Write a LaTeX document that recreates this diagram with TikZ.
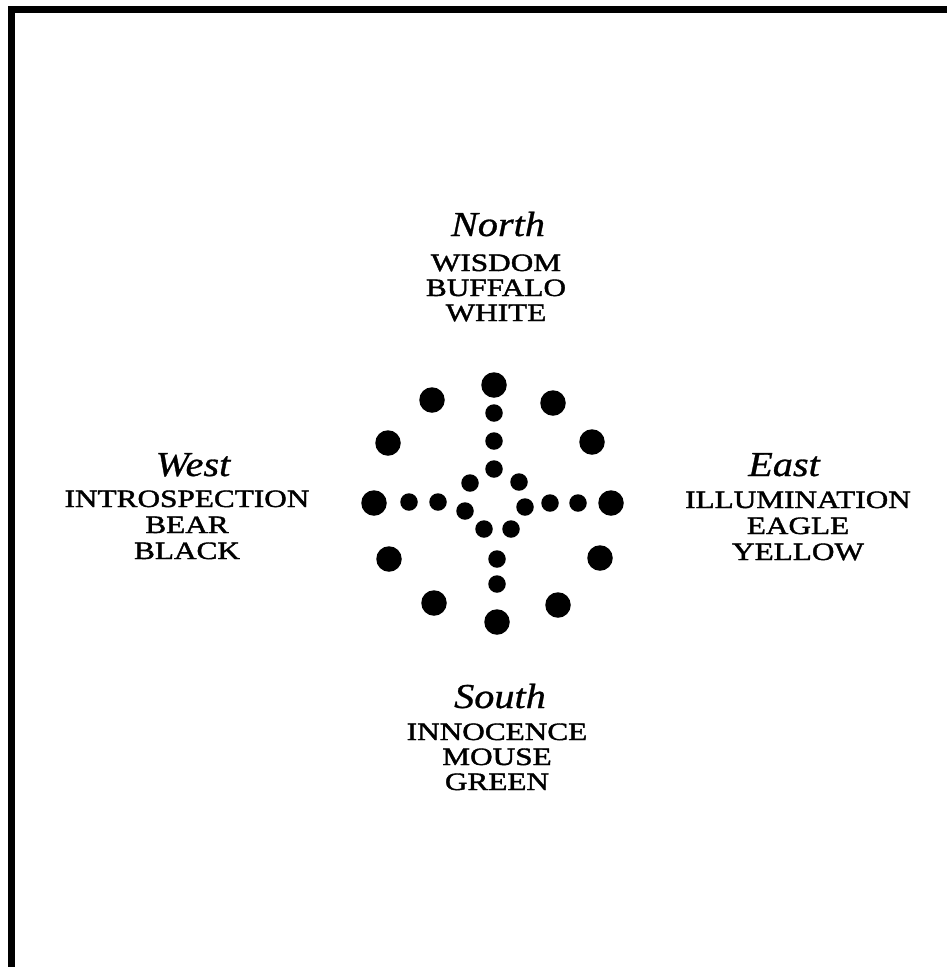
\documentclass[tikz,border=0pt]{standalone}
\usepackage{fontspec}
\setmainfont{Liberation Serif}
\newfontfamily\titlefont[FakeStretch=1.15,FakeBold=0.8]{Liberation Serif}
\newfontfamily\capfont[FakeStretch=1.25,FakeBold=1.6]{Liberation Serif}
\begin{document}
\begin{tikzpicture}[x=1pt,y=-1pt,
  bigdot/.style={circle,fill=black,inner sep=0pt,minimum size=25.5pt},
  smalldot/.style={circle,fill=black,inner sep=0pt,minimum size=17.5pt},
  dirtitle/.style={anchor=base,inner sep=0pt,font=\titlefont\itshape\fontsize{35}{40}\selectfont},
  dirline/.style={anchor=base,inner sep=0pt,font=\capfont\fontsize{25}{26}\selectfont},
  framebar/.style={fill=black}]
\useasboundingbox (0,0) rectangle (947,967);
\fill[white] (0,0) rectangle (947,967);
% frame (top and left edges)
\fill[framebar] (8,6) rectangle (947,13);
\fill[framebar] (8,6) rectangle (15,967);

% outer ring of large dots
\node[bigdot] (bN)  at (494,385) {};
\node[bigdot] (bNW) at (432,400) {};
\node[bigdot] (bNE) at (553,403) {};
\node[bigdot] (bWN) at (388,443) {};
\node[bigdot] (bEN) at (592,442) {};
\node[bigdot] (bW)  at (374,503) {};
\node[bigdot] (bE)  at (611,503) {};
\node[bigdot] (bWS) at (389,559) {};
\node[bigdot] (bES) at (600,558) {};
\node[bigdot] (bSW) at (434,603) {};
\node[bigdot] (bSE) at (558,605) {};
\node[bigdot] (bS)  at (497,622) {};

% inner small dots
\node[smalldot] (n1) at (494,413) {};
\node[smalldot] (n2) at (494,441) {};
\node[smalldot] (n3) at (494,469) {};
\node[smalldot] (c1) at (470,483) {};
\node[smalldot] (c2) at (519,482) {};
\node[smalldot] (w1) at (409,502) {};
\node[smalldot] (w2) at (438,502) {};
\node[smalldot] (c3) at (465,511) {};
\node[smalldot] (c4) at (525,507) {};
\node[smalldot] (e1) at (550,503) {};
\node[smalldot] (e2) at (578,503) {};
\node[smalldot] (c5) at (484,529) {};
\node[smalldot] (c6) at (511,529) {};
\node[smalldot] (s1) at (497,559) {};
\node[smalldot] (s2) at (497,584) {};

% North
\node[dirtitle] (tN) at (498,236) {North};
\node[dirline] (N1) at (496,271) {WISDOM};
\node[dirline] (N2) at (496,296) {BUFFALO};
\node[dirline] (N3) at (496,321) {WHITE};

% West
\node[dirtitle] (tW) at (193,476) {West};
\node[dirline] (W1) at (187,507) {INTROSPECTION};
\node[dirline] (W2) at (187,533) {BEAR};
\node[dirline] (W3) at (187,559) {BLACK};

% East
\node[dirtitle] (tE) at (784,476) {East};
\node[dirline] (E1) at (798,508) {ILLUMINATION};
\node[dirline] (E2) at (798,534) {EAGLE};
\node[dirline] (E3) at (798,560) {YELLOW};

% South
\node[dirtitle] (tS) at (500,708) {South};
\node[dirline] (S1) at (497,740) {INNOCENCE};
\node[dirline] (S2) at (497,765) {MOUSE};
\node[dirline] (S3) at (497,790) {GREEN};
\end{tikzpicture}
\end{document}
